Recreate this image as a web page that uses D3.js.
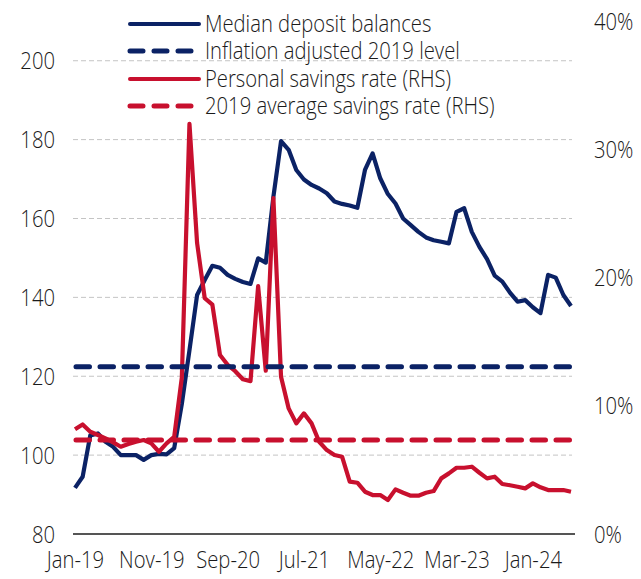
<!DOCTYPE html>
<html>
<head>
<meta charset="utf-8">
<script src="https://cdn.jsdelivr.net/npm/d3@7"></script>
<style>
  html, body { margin: 0; padding: 0; background: #fff; }
  svg { display: block; }
  text { font-family: "Open Sans", sans-serif; font-weight: 350; fill: #1a1a1a; }
</style>
</head>
<body>
<div id="chart"></div>
<script>
// ---- Data ----
const months = [
  "2019-01","2019-02","2019-03","2019-04","2019-05","2019-06","2019-07","2019-08","2019-09","2019-10","2019-11","2019-12",
  "2020-01","2020-02","2020-03","2020-04","2020-05","2020-06","2020-07","2020-08","2020-09","2020-10","2020-11","2020-12",
  "2021-01","2021-02","2021-03","2021-04","2021-05","2021-06","2021-07","2021-08","2021-09","2021-10","2021-11","2021-12",
  "2022-01","2022-02","2022-03","2022-04","2022-05","2022-06","2022-07","2022-08","2022-09","2022-10","2022-11","2022-12",
  "2023-01","2023-02","2023-03","2023-04","2023-05","2023-06","2023-07","2023-08","2023-09","2023-10","2023-11","2023-12",
  "2024-01","2024-02","2024-03","2024-04","2024-05","2024-06"
];
const medianDeposits = [
  91.7, 94.5, 105, 105.5, 103.4, 102.1, 100, 100, 100, 98.8, 100, 100.3,
  100.2, 101.8, 113, 126.6, 140.6, 144.4, 148, 147.5, 145.7, 144.7, 143.9, 143.4,
  149.9, 148.8, 165.5, 179.6, 177.4, 172.3, 169.9, 168.5, 167.6, 166.4, 164.3, 163.7,
  163.3, 162.7, 172.3, 176.5, 170.2, 166.2, 163.8, 160, 158.3, 156.6, 155.2, 154.5,
  154.1, 153.7, 161.7, 162.6, 156.6, 152.8, 149.7, 145.5, 144, 141.2, 138.9, 139.3,
  137.5, 136, 145.7, 145, 140.6, 137.8
];
const savingsRate = [
  8.17, 8.55, 7.98, 7.72, 7.46, 7.15, 6.81, 7.02, 7.2, 7.33, 7.07, 6.42,
  7.07, 7.59, 12.2, 32.0, 22.7, 18.4, 17.9, 13.96, 13.2, 12.7, 12.07, 11.93,
  19.34, 12.74, 26.2, 12.27, 9.8, 8.63, 9.41, 8.63, 7.2, 6.55, 6.16, 6.03,
  4.08, 4.0, 3.3, 3.04, 3.04, 2.65, 3.48, 3.22, 2.99, 2.99, 3.22, 3.35,
  4.34, 4.73, 5.17, 5.17, 5.25, 4.78, 4.34, 4.47, 3.9, 3.8, 3.69, 3.56,
  3.95, 3.64, 3.43, 3.43, 3.43, 3.3
];
const inflationAdjusted2019 = 122.4;
const avgSavings2019 = 7.33;

const xTickMonths = ["2019-01","2019-11","2020-09","2021-07","2022-05","2023-03","2024-01"];
const xTickLabels = ["Jan-19","Nov-19","Sep-20","Jul-21","May-22","Mar-23","Jan-24"];
const leftTicks = [80, 100, 120, 140, 160, 180, 200];
const rightTicks = [0, 10, 20, 30, 40];

const legendItems = [
  { label: "Median deposit balances", color: "#0b2265", dashed: false },
  { label: "Inflation adjusted 2019 level", color: "#0b2265", dashed: true },
  { label: "Personal savings rate (RHS)", color: "#c8102e", dashed: false },
  { label: "2019 average savings rate (RHS)", color: "#c8102e", dashed: true }
];

// ---- Layout ----
const W = 641, H = 579;
const NAVY = "#0b2265", RED = "#c8102e";
const FS = 23;
const SX = "scale(0.88,1)";
const svg = d3.select("#chart").append("svg").attr("width", W).attr("height", H);

const x = d3.scalePoint().domain(months).range([75, 571]);
const yL = d3.scaleLinear().domain([80, 210]).range([534, 21.3]);
const yR = d3.scaleLinear().domain([0, 40]).range([534, 21.3]);

// Gridlines
svg.append("g").selectAll("line")
  .data(leftTicks.filter(d => d > 80))
  .join("line")
  .attr("x1", 73).attr("x2", 572)
  .attr("y1", d => yL(d)).attr("y2", d => yL(d))
  .attr("stroke", "#c4c4c4").attr("stroke-width", 1)
  .attr("stroke-dasharray", "5,3");

// Left axis
const leftAxis = d3.axisLeft(yL).tickValues(leftTicks).tickSize(0).tickPadding(0).tickFormat(d3.format("d"));
const gL = svg.append("g").attr("transform", "translate(55,0)").call(leftAxis);
gL.select(".domain").remove();
gL.selectAll("text").attr("font-size", FS).attr("dy", "0.35em").attr("text-anchor", "end").attr("transform", SX);

// Right axis
const rightAxis = d3.axisRight(yR).tickValues(rightTicks).tickSize(0).tickPadding(0).tickFormat(d => d + "%");
const gR = svg.append("g").attr("transform", "translate(594,0)").call(rightAxis);
gR.select(".domain").remove();
gR.selectAll("text").attr("font-size", FS).attr("dy", "0.35em").attr("text-anchor", "start").attr("transform", SX);

// Bottom axis
const bottomAxis = d3.axisBottom(x).tickValues(xTickMonths).tickSize(0).tickPadding(0)
  .tickFormat((d, i) => xTickLabels[i]);
const gB = svg.append("g").attr("transform", "translate(0,534)").call(bottomAxis);
gB.select(".domain").remove();
gB.selectAll("text").attr("font-size", FS).attr("dy", "1.5em").attr("transform", SX);
svg.append("line").attr("x1", 73).attr("x2", 575).attr("y1", yL(80)).attr("y2", yL(80))
  .attr("stroke", "#555").attr("stroke-width", 2);

// Lines
const blueLine = d3.line().x((d, i) => x(months[i])).y(d => yL(d));
const redLine = d3.line().x((d, i) => x(months[i])).y(d => yR(d));

svg.append("path").datum(medianDeposits).attr("d", blueLine)
  .attr("fill", "none").attr("stroke", NAVY).attr("stroke-width", 4.2).attr("stroke-linejoin", "round");
svg.append("path").datum(savingsRate).attr("d", redLine)
  .attr("fill", "none").attr("stroke", RED).attr("stroke-width", 4.2).attr("stroke-linejoin", "round");

svg.append("line")
  .attr("x1", x(months[0]) + 1).attr("x2", x(months[months.length - 1]) - 1)
  .attr("y1", yL(inflationAdjusted2019)).attr("y2", yL(inflationAdjusted2019))
  .attr("stroke", NAVY).attr("stroke-width", 5).attr("stroke-linecap", "round")
  .attr("stroke-dasharray", "13.5,10.5");
svg.append("line")
  .attr("x1", x(months[0]) + 1).attr("x2", x(months[months.length - 1]) - 1)
  .attr("y1", yR(avgSavings2019)).attr("y2", yR(avgSavings2019))
  .attr("stroke", RED).attr("stroke-width", 5).attr("stroke-linecap", "round")
  .attr("stroke-dasharray", "13.5,10.5");

// Legend
const lg = svg.append("g");
const rowY = [24, 51, 79, 106];
legendItems.forEach((it, i) => {
  const g = lg.append("g").attr("transform", `translate(0,${rowY[i]})`);
  g.append("line").attr("x1", 130).attr("x2", 199).attr("y1", 0).attr("y2", 0)
    .attr("stroke", it.color).attr("stroke-width", it.dashed ? 5 : 4)
    .attr("stroke-linecap", "round")
    .attr("stroke-dasharray", it.dashed ? "13,11" : null);
  g.append("g").attr("transform", "translate(205,0)")
    .append("text").attr("x", 0).attr("y", 0).attr("dy", "0.35em")
    .attr("font-size", FS).attr("transform", SX).text(it.label);
});
</script>
</body>
</html>
